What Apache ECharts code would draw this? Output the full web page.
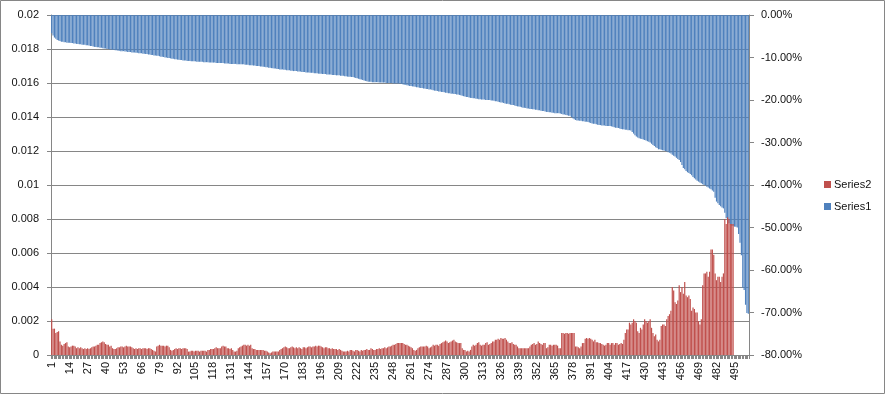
<!DOCTYPE html>
<html>
<head>
<meta charset="utf-8">
<script src="https://cdn.jsdelivr.net/npm/echarts@6/dist/echarts.min.js"></script>
<style>
html,body{margin:0;padding:0;background:#fff;}
#chart{width:885px;height:394px;}
</style>
</head>
<body>
<div id="chart"></div>
<script>
// ---- data ----
const categoryCount = 505;
const categories = Array.from({length: categoryCount}, (_, k) => String(k + 1));

// Series1 (right axis, percent)
const series1 = [
-4.3,-4.8,-5.3,-5.6,-5.9,-6.0,-6.1,-6.3,-6.3,-6.4,
-6.4,-6.5,-6.5,-6.5,-6.6,-6.6,-6.7,-6.7,-6.8,-6.8,
-6.9,-6.9,-7.0,-7.0,-7.0,-7.1,-7.1,-7.2,-7.3,-7.3,
-7.4,-7.5,-7.5,-7.6,-7.6,-7.7,-7.7,-7.8,-7.9,-7.9,
-8.0,-8.0,-8.1,-8.1,-8.2,-8.2,-8.3,-8.3,-8.4,-8.4,
-8.5,-8.5,-8.5,-8.6,-8.6,-8.7,-8.7,-8.7,-8.8,-8.8,
-8.8,-8.9,-8.9,-9.0,-9.0,-9.0,-9.1,-9.1,-9.2,-9.2,
-9.3,-9.3,-9.4,-9.4,-9.5,-9.5,-9.6,-9.6,-9.7,-9.8,
-9.8,-9.9,-10.0,-10.0,-10.1,-10.1,-10.2,-10.3,-10.3,-10.4,
-10.4,-10.5,-10.5,-10.6,-10.6,-10.7,-10.7,-10.7,-10.8,-10.8,
-10.8,-10.9,-10.9,-10.9,-10.9,-11.0,-11.0,-11.0,-11.0,-11.0,
-11.1,-11.1,-11.1,-11.1,-11.2,-11.2,-11.2,-11.2,-11.2,-11.3,
-11.3,-11.3,-11.3,-11.3,-11.3,-11.4,-11.4,-11.4,-11.4,-11.5,
-11.5,-11.5,-11.5,-11.5,-11.6,-11.6,-11.6,-11.6,-11.6,-11.6,
-11.7,-11.7,-11.7,-11.8,-11.8,-11.8,-11.9,-11.9,-12.0,-12.0,
-12.0,-12.1,-12.1,-12.2,-12.2,-12.3,-12.3,-12.4,-12.4,-12.5,
-12.5,-12.6,-12.6,-12.7,-12.7,-12.8,-12.8,-12.8,-12.9,-12.9,
-13.0,-13.0,-13.0,-13.1,-13.1,-13.2,-13.2,-13.2,-13.3,-13.3,
-13.3,-13.4,-13.4,-13.4,-13.5,-13.5,-13.5,-13.6,-13.6,-13.6,
-13.7,-13.7,-13.7,-13.8,-13.8,-13.8,-13.9,-13.9,-13.9,-14.0,
-14.0,-14.0,-14.0,-14.1,-14.1,-14.1,-14.2,-14.2,-14.2,-14.3,
-14.3,-14.3,-14.4,-14.4,-14.5,-14.5,-14.5,-14.6,-14.6,-14.7,
-14.8,-14.9,-15.0,-15.1,-15.2,-15.3,-15.4,-15.5,-15.6,-15.7,
-15.7,-15.7,-15.8,-15.8,-15.8,-15.8,-15.8,-15.9,-15.9,-15.9,
-15.9,-15.9,-16.0,-16.0,-16.0,-16.0,-16.0,-16.1,-16.1,-16.1,
-16.1,-16.1,-16.2,-16.2,-16.3,-16.4,-16.4,-16.5,-16.6,-16.7,
-16.7,-16.8,-16.8,-16.9,-17.0,-17.0,-17.1,-17.2,-17.2,-17.3,
-17.3,-17.4,-17.4,-17.5,-17.5,-17.6,-17.7,-17.8,-17.8,-17.9,
-18.0,-18.0,-18.1,-18.1,-18.2,-18.3,-18.3,-18.4,-18.4,-18.5,
-18.5,-18.6,-18.6,-18.7,-18.7,-18.8,-18.9,-19.0,-19.1,-19.2,
-19.3,-19.3,-19.4,-19.5,-19.5,-19.6,-19.6,-19.7,-19.7,-19.8,
-19.8,-19.9,-19.9,-19.9,-20.0,-20.0,-20.0,-20.0,-20.1,-20.1,
-20.2,-20.3,-20.3,-20.4,-20.5,-20.6,-20.6,-20.7,-20.8,-20.9,
-20.9,-21.0,-21.1,-21.2,-21.2,-21.3,-21.4,-21.5,-21.5,-21.6,
-21.7,-21.8,-21.8,-21.9,-22.0,-22.0,-22.1,-22.1,-22.2,-22.2,
-22.3,-22.3,-22.4,-22.4,-22.5,-22.6,-22.6,-22.7,-22.8,-22.8,
-22.9,-22.9,-23.0,-23.0,-23.1,-23.1,-23.1,-23.1,-23.2,-23.3,
-23.4,-23.4,-23.5,-23.6,-23.7,-23.7,-24.0,-24.3,-24.5,-24.7,
-24.8,-24.8,-24.9,-24.9,-25.0,-25.0,-25.1,-25.1,-25.2,-25.3,
-25.4,-25.5,-25.6,-25.6,-25.7,-25.8,-25.9,-25.9,-26.0,-26.0,
-26.0,-26.1,-26.1,-26.1,-26.1,-26.2,-26.3,-26.4,-26.5,-26.5,
-26.6,-26.7,-26.8,-26.9,-26.9,-27.0,-27.0,-27.1,-27.1,-27.2,
-27.5,-27.9,-28.3,-28.6,-28.8,-29.0,-29.1,-29.2,-29.3,-29.4,
-29.5,-29.7,-29.8,-30.0,-30.3,-30.6,-30.8,-31.1,-31.3,-31.6,
-31.6,-31.7,-31.8,-31.9,-32.0,-32.1,-32.3,-32.4,-32.6,-32.9,
-33.1,-33.3,-33.6,-33.9,-34.1,-34.6,-35.3,-36.0,-36.3,-36.7,
-37.0,-37.2,-37.4,-37.7,-38.1,-38.4,-38.7,-39.0,-39.2,-39.4,
-39.6,-39.8,-40.0,-40.1,-40.4,-40.6,-40.8,-41.0,-41.3,-41.6,
-43.0,-43.9,-44.3,-44.7,-45.0,-45.3,-45.5,-46.5,-47.8,-48.4,
-49.0,-49.3,-49.6,-49.6,-49.8,-49.8,-50.0,-51.5,-53.6,-56.5,
-64.2,-64.7,-68.2,-70.1,-70.3
];

// Series2 (left axis)
const series2 = [
0.0021,0.00155,0.00155,0.0013,0.00135,0.0014,0.0008,0.0006,0.00055,0.00065,
0.0007,0.00075,0.0005,0.00045,0.0005,0.00055,0.00055,0.0005,0.0004,0.00045,
0.0004,0.00045,0.0004,0.00035,0.0004,0.00035,0.0004,0.00035,0.0004,0.00045,
0.0005,0.0005,0.00055,0.0006,0.0006,0.0007,0.00075,0.0008,0.00075,0.00065,
0.0006,0.0006,0.0005,0.00055,0.0004,0.00035,0.00035,0.0004,0.00045,0.00045,
0.0005,0.0005,0.00045,0.0005,0.00055,0.0005,0.0005,0.0005,0.00045,0.0004,
0.00035,0.0004,0.00035,0.0004,0.0004,0.00035,0.0004,0.0004,0.0004,0.00035,
0.0004,0.0004,0.00035,0.0003,0.00025,0.0002,0.0005,0.00055,0.0006,0.00055,
0.00055,0.00055,0.0005,0.00055,0.00055,0.00045,0.0003,0.00025,0.0003,0.00035,
0.0004,0.00035,0.0004,0.0004,0.00035,0.0004,0.0004,0.0004,0.00035,0.0002,
0.0002,0.00025,0.00025,0.0002,0.00025,0.00025,0.00025,0.0002,0.00025,0.00025,
0.00025,0.00025,0.0002,0.0003,0.0003,0.00035,0.00035,0.00035,0.0004,0.00045,
0.0004,0.0004,0.0004,0.0005,0.00055,0.0005,0.0005,0.0004,0.0004,0.00035,
0.0004,0.0003,0.0002,0.0002,0.00025,0.0004,0.00045,0.0005,0.00055,0.0006,
0.0006,0.00055,0.0006,0.00055,0.0006,0.0004,0.00035,0.00035,0.0003,0.0003,
0.0003,0.0003,0.0003,0.0003,0.00025,0.00025,0.0002,0.00015,0.0001,0.00015,
0.0002,0.0002,0.0002,0.0002,0.0002,0.0003,0.00035,0.0004,0.00045,0.0005,
0.00045,0.0004,0.0004,0.00045,0.0005,0.00045,0.0004,0.00045,0.0004,0.00045,
0.0004,0.00035,0.00045,0.00045,0.0004,0.00045,0.0005,0.0005,0.00045,0.0005,
0.0005,0.00055,0.0005,0.00055,0.00055,0.0005,0.00045,0.0004,0.00045,0.00045,
0.0004,0.0004,0.00035,0.0004,0.00035,0.00035,0.00035,0.0003,0.00035,0.0003,
0.00025,0.0002,0.0002,0.0002,0.00025,0.0002,0.0003,0.0003,0.00025,0.0002,
0.0003,0.0003,0.00025,0.0002,0.0003,0.00025,0.0003,0.0003,0.00035,0.0003,
0.0003,0.0004,0.00035,0.0003,0.0003,0.00035,0.00035,0.0004,0.00035,0.0004,
0.0004,0.00045,0.0004,0.00045,0.0005,0.0005,0.00055,0.0006,0.0006,0.00065,
0.0007,0.0007,0.0007,0.0007,0.0007,0.00065,0.0006,0.0006,0.00055,0.0005,
0.00045,0.0004,0.0003,0.00025,0.0003,0.0004,0.00045,0.0005,0.0005,0.0005,
0.0005,0.00055,0.0005,0.0004,0.00045,0.0005,0.0006,0.00055,0.0006,0.0006,
0.00055,0.00065,0.0007,0.00075,0.0008,0.00085,0.0008,0.0007,0.00075,0.0008,
0.00085,0.0009,0.0008,0.00075,0.0007,0.0007,0.0007,0.0004,0.0003,0.0003,
0.0002,0.00025,0.0002,0.0003,0.0005,0.0006,0.00055,0.0006,0.0007,0.00075,
0.0006,0.00055,0.0006,0.0006,0.0007,0.00075,0.0006,0.00065,0.0007,0.0008,
0.0008,0.0009,0.0009,0.00095,0.0009,0.001,0.00095,0.00095,0.001,0.0009,
0.0008,0.0007,0.0007,0.00075,0.00065,0.0006,0.0006,0.0005,0.0004,0.0004,
0.0004,0.0004,0.0004,0.0004,0.0004,0.0004,0.0005,0.0006,0.00065,0.0007,
0.0006,0.00065,0.0008,0.0007,0.00065,0.0006,0.0007,0.0007,0.0004,0.00045,
0.0006,0.0006,0.00055,0.0006,0.0006,0.0006,0.00055,0.0004,0.0004,0.0013,
0.0013,0.00125,0.0013,0.0013,0.00125,0.0013,0.0013,0.0013,0.0013,0.0005,
0.0005,0.00045,0.0004,0.0005,0.0007,0.0007,0.00095,0.001,0.00095,0.001,
0.00095,0.0009,0.0008,0.0009,0.00075,0.00075,0.0007,0.0007,0.00065,0.0006,
0.00055,0.0006,0.0007,0.0007,0.0006,0.0007,0.0007,0.0006,0.0007,0.0007,
0.0006,0.00065,0.0007,0.00065,0.0009,0.0013,0.0015,0.0015,0.0019,0.0018,
0.0019,0.0021,0.0020,0.0019,0.0014,0.0013,0.0016,0.0015,0.0018,0.0021,
0.0020,0.0019,0.0020,0.0021,0.0016,0.0013,0.0011,0.0012,0.0009,0.0008,
0.0009,0.0017,0.0018,0.0018,0.0017,0.0021,0.0023,0.0024,0.0026,0.0040,
0.0038,0.0031,0.0030,0.0032,0.0041,0.0037,0.0040,0.0036,0.0043,0.0035,
0.0034,0.0035,0.0033,0.0026,0.0028,0.0027,0.0025,0.0025,0.0020,0.0018,
0.0021,0.0041,0.0048,0.0048,0.0049,0.0046,0.0049,0.0062,0.0062,0.0059,
0.0048,0.0044,0.0046,0.0046,0.0043,0.0046,0.0048,0.0080,0.0077,0.0081,
0.0080,0.0077,0.0077,0.0077
];

const leftAxisRange = [0, 0.02, 0.002];
const rightAxisRange = [-80, 0, 10];
const legendOrder = ['Series2', 'Series1'];

// ---- chart ----
const chart = echarts.init(document.getElementById('chart'), null, {renderer: 'canvas'});
const grey = '#868686';
const txt = {fontFamily: 'Liberation Sans, Arial, sans-serif', fontSize: 11, color: '#111'};

chart.setOption({
  animation: false,
  backgroundColor: '#fff',
  graphic: [{
    type: 'rect', silent: true, z: -1,
    shape: {x: 0.5, y: 0.5, width: 884, height: 393},
    style: {fill: 'none', stroke: grey, lineWidth: 1}
  }],
  grid: {left: 51, right: 136, top: 15, bottom: 39, containLabel: false},
  legend: {
    data: legendOrder,
    orient: 'vertical',
    left: 819, top: 174,
    itemWidth: 7, itemHeight: 7, itemGap: 11,
    icon: 'rect',
    textStyle: Object.assign({}, txt, {padding: [0, 0, 0, -2]})
  },
  xAxis: {
    type: 'category',
    data: categories,
    boundaryGap: true,
    axisLine: {onZero: false, lineStyle: {color: grey}},
    axisTick: {show: true, interval: 0, length: 4, lineStyle: {color: grey}},
    axisLabel: Object.assign({}, txt, {interval: 12, rotate: 90, margin: 7}),
    splitLine: {show: false}
  },
  yAxis: [{
    type: 'value',
    position: 'left',
    min: leftAxisRange[0], max: leftAxisRange[1], interval: leftAxisRange[2],
    axisLine: {show: true, lineStyle: {color: grey}},
    axisTick: {show: true, length: 4, lineStyle: {color: grey}},
    axisLabel: Object.assign({}, txt, {margin: 12, formatter: v => String(+v.toFixed(3))}),
    splitLine: {show: true, lineStyle: {color: grey, width: 1}}
  }, {
    type: 'value',
    position: 'right',
    min: rightAxisRange[0], max: rightAxisRange[1], interval: rightAxisRange[2],
    axisLine: {show: true, lineStyle: {color: grey}},
    axisTick: {show: true, length: 5, lineStyle: {color: grey}},
    axisLabel: Object.assign({}, txt, {margin: 12, formatter: v => v.toFixed(2) + '%'}),
    splitLine: {show: false}
  }],
  series: [{
    name: 'Series1',
    type: 'bar',
    yAxisIndex: 1,
    data: series1,
    barWidth: '86%',
    barGap: '-100%',
    itemStyle: {color: '#4F81BD'},
    emphasis: {disabled: true}
  }, {
    name: 'Series2',
    type: 'bar',
    yAxisIndex: 0,
    data: series2,
    barWidth: '86%',
    barGap: '-100%',
    itemStyle: {color: '#C0504D'},
    emphasis: {disabled: true}
  }]
});
</script>
</body>
</html>
